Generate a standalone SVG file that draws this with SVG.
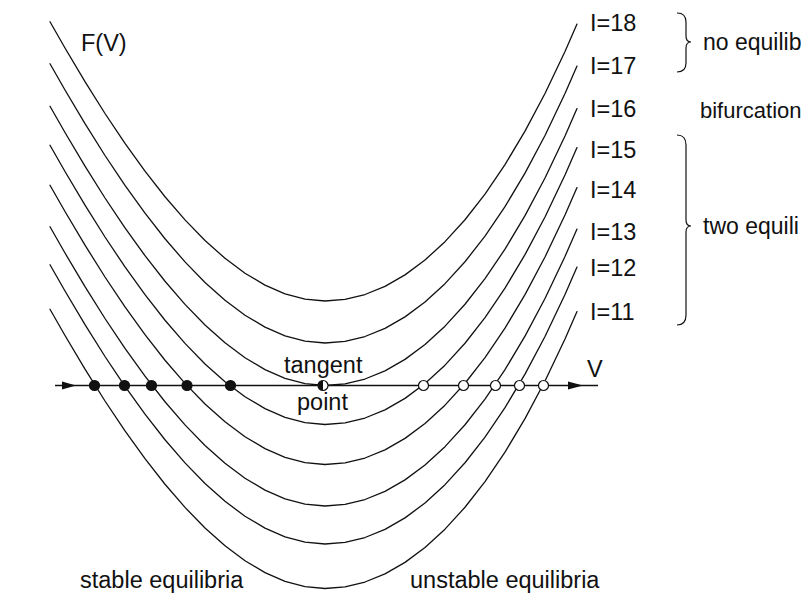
<svg xmlns="http://www.w3.org/2000/svg" xmlns:xlink="http://www.w3.org/1999/xlink" width="802" height="605" viewBox="0 0 802 605">
  <style>
    .crv { fill: none; stroke: #111; stroke-width: 1.3; stroke-linejoin: round; stroke-linecap: round; }
    .ax { fill: none; stroke: #111; stroke-width: 1.3; }
    .lbl { font-family: "Liberation Sans", Arial, Helvetica, sans-serif; font-size: 23.5px; fill: #111; }
    .side { font-size: 23px; }
    .stable { fill: #111; stroke: #111; stroke-width: 1.2; }
    .unstable { fill: #fff; stroke: #111; stroke-width: 1.2; }
    .brace { fill: none; stroke: #111; stroke-width: 1.2; }
  </style>
  <defs>
    <path id="F" class="crv" d="M-275,-279.3 L-260,-252.96 -240,-219.34 -220,-187.5 -200,-157.6 -180,-129.79 -160,-104.24 -140,-81.1 -120,-60.54 -100,-42.7 -80,-27.75 -60,-15.85 -40,-7.15 -20,-1.81 0,0 20,-1.62 40,-6.49 60,-14.64 80,-26.12 100,-40.99 120,-59.34 140,-81.26 160,-106.89 180,-136.36 200,-169.84 220,-207.5 240,-249.54 252,-276.95"/>
  </defs>

  <g id="curves">
    <use id="curve-I18" xlink:href="#F" href="#F" transform="translate(325,301)"/>
    <use id="curve-I17" xlink:href="#F" href="#F" transform="translate(325,343)"/>
    <use id="curve-I16" xlink:href="#F" href="#F" transform="translate(325,385.5)"/>
    <use id="curve-I15" xlink:href="#F" href="#F" transform="translate(325,424.5)"/>
    <use id="curve-I14" xlink:href="#F" href="#F" transform="translate(325,464.5)"/>
    <use id="curve-I13" xlink:href="#F" href="#F" transform="translate(325,506)"/>
    <use id="curve-I12" xlink:href="#F" href="#F" transform="translate(325,544)"/>
    <use id="curve-I11" xlink:href="#F" href="#F" transform="translate(325,588.5)"/>
  </g>

  <g id="axis">
    <line class="ax" x1="55" y1="385.5" x2="598" y2="385.5"/>
    <polygon points="62,381.5 76,385.5 62,389.5" fill="#111"/>
    <polygon points="568,381.5 583,385.5 568,389.5" fill="#111"/>
  </g>

  <g id="equilibria">
    <circle class="stable" cx="94.5" cy="385.5" r="5"/>
    <circle class="stable" cx="124.5" cy="385.5" r="5"/>
    <circle class="stable" cx="151.5" cy="385.5" r="5"/>
    <circle class="stable" cx="187" cy="385.5" r="5"/>
    <circle class="stable" cx="230.5" cy="385.5" r="5"/>
    <g id="tangent-point">
      <circle class="unstable" cx="323" cy="385.5" r="5"/>
      <path d="M323,380.5 A5,5 0 0 0 323,390.5 Z" fill="#111"/>
    </g>
    <circle class="unstable" cx="423.5" cy="385.5" r="5"/>
    <circle class="unstable" cx="463.5" cy="385.5" r="5"/>
    <circle class="unstable" cx="495.5" cy="385.5" r="5"/>
    <circle class="unstable" cx="519.5" cy="385.5" r="5"/>
    <circle class="unstable" cx="543.5" cy="385.5" r="5"/>
  </g>

  <g id="braces">
    <path class="brace" d="M677,13 Q686,13 686,22 L686,36 Q686,42 691,42 Q686,42 686,48 L686,63 Q686,72 677,72"/>
    <path class="brace" d="M677,135 Q686,135 686,145 L686,220 Q686,226 691,226 Q686,226 686,232 L686,315 Q686,325 677,325"/>
  </g>

  <g id="labels">
    <text class="lbl" x="81" y="51">F(V)</text>
    <text class="lbl" x="590" y="31">I=18</text>
    <text class="lbl" x="590" y="74">I=17</text>
    <text class="lbl" x="590" y="117">I=16</text>
    <text class="lbl" x="590" y="158">I=15</text>
    <text class="lbl" x="590" y="198">I=14</text>
    <text class="lbl" x="590" y="240">I=13</text>
    <text class="lbl" x="590" y="276">I=12</text>
    <text class="lbl" x="590" y="320">I=11</text>
    <text class="lbl side" x="703" y="50">no equilib</text>
    <text class="lbl" x="700" y="118" style="font-size:22px">bifurcation</text>
    <text class="lbl side" x="703" y="234">two equili</text>
    <text class="lbl" x="284" y="373">tangent</text>
    <text class="lbl" x="297" y="410">point</text>
    <text class="lbl" x="587" y="377">V</text>
    <text class="lbl" x="80" y="588">stable equilibria</text>
    <text class="lbl" x="410" y="588">unstable equilibria</text>
  </g>
</svg>
